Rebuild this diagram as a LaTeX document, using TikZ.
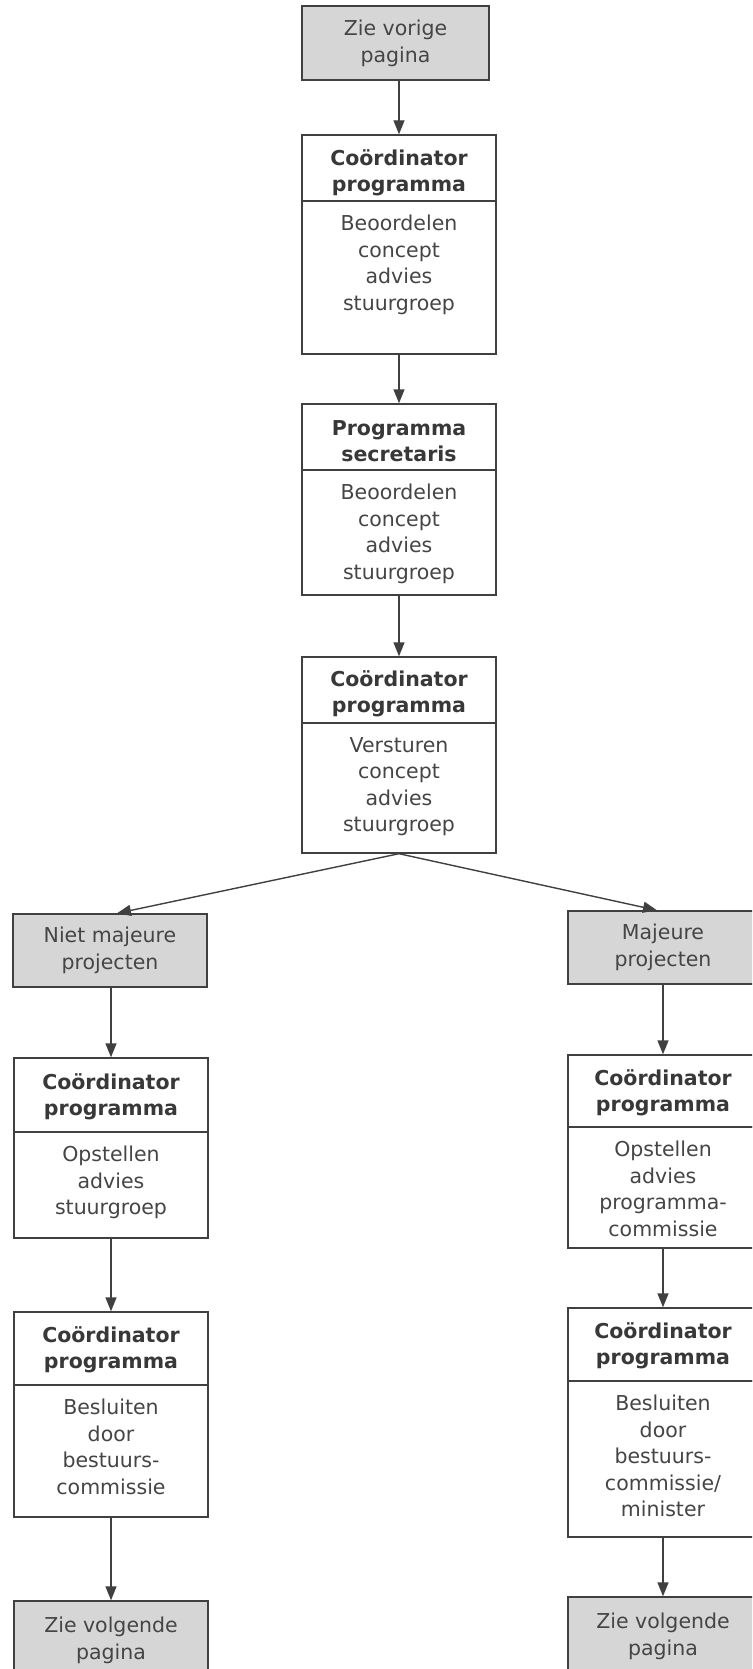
\documentclass[tikz,border=0pt]{standalone}
\usepackage{fontspec}
\setmainfont{DejaVu Sans}
\usetikzlibrary{arrows.meta}
\definecolor{ln}{HTML}{404040}
\definecolor{hd}{HTML}{383838}
\definecolor{tx}{HTML}{454545}
\definecolor{greyfill}{HTML}{D6D6D6}
\begin{document}
\begin{tikzpicture}[x=1pt,y=-1pt,
  boxline/.style={draw=ln, line width=1.4pt},
  greybox/.style={boxline, fill=greyfill, inner sep=0pt, text=tx, align=center,
    font=\fontsize{20.5}{27}\selectfont},
  headbox/.style={boxline, fill=white, inner sep=0pt},
  headtxt/.style={text=hd, align=center, inner sep=0pt,
    font=\bfseries\fontsize{20.5}{25.5}\selectfont},
  bodybox/.style={boxline, fill=white, inner sep=0pt},
  bodytxt/.style={font=\fontsize{20.5}{26.5}\selectfont, text=tx, align=center,
    inner sep=0pt, anchor=north},
  arr/.style={draw=ln, line width=1.4pt, -{Triangle[length=14pt,width=11pt]}}]
\clip (0,0) rectangle (752,1669);
\fill[white] (0,0) rectangle (752,1669);

% top column
\node[greybox, minimum width=187pt, minimum height=74pt] (top) at (395.5,43) {Zie vorige\\pagina};

\node[headbox, minimum width=194pt, minimum height=66pt] (b1h) at (399,168) {};
\node[headtxt] (b1x) at (399,173) {Coördinator\\programma};
\node[bodybox, minimum width=194pt, minimum height=153pt] (b1b) at (399,277.5) {};
\node[bodytxt] (b1t) at (399,215) {Beoordelen\\concept\\advies\\stuurgroep};

\node[headbox, minimum width=194pt, minimum height=66pt] (b2h) at (399,437) {};
\node[headtxt] (b2x) at (399,441) {Programma\\secretaris};
\node[bodybox, minimum width=194pt, minimum height=125pt] (b2b) at (399,532.5) {};
\node[bodytxt] (b2t) at (399,484) {Beoordelen\\concept\\advies\\stuurgroep};

\node[headbox, minimum width=194pt, minimum height=66pt] (b3h) at (399,690) {};
\node[headtxt] (b3x) at (399,694) {Coördinator\\programma};
\node[bodybox, minimum width=194pt, minimum height=130pt] (b3b) at (399,788) {};
\node[bodytxt] (b3t) at (399,737) {Versturen\\concept\\advies\\stuurgroep};

% left column
\node[greybox, minimum width=194pt, minimum height=73pt] (nm) at (110,950.5) {Niet majeure\\projecten};

\node[headbox, minimum width=194pt, minimum height=74pt] (l1h) at (111,1095) {};
\node[headtxt] (l1x) at (111,1097) {Coördinator\\programma};
\node[bodybox, minimum width=194pt, minimum height=106pt] (l1b) at (111,1185) {};
\node[bodytxt] (l1t) at (111,1146) {Opstellen\\advies\\stuurgroep};

\node[headbox, minimum width=194pt, minimum height=73pt] (l2h) at (111,1348.5) {};
\node[headtxt] (l2x) at (111,1350) {Coördinator\\programma};
\node[bodybox, minimum width=194pt, minimum height=132pt] (l2b) at (111,1451) {};
\node[bodytxt] (l2t) at (111,1399) {Besluiten\\door\\bestuurs-\\commissie};

\node[greybox, minimum width=194pt, minimum height=78pt] (l3) at (111,1640) {Zie volgende\\pagina};

% right column
\node[greybox, minimum width=190pt, minimum height=73pt] (mj) at (663,947.5) {Majeure\\projecten};

\node[headbox, minimum width=190pt, minimum height=72pt] (r1h) at (663,1091) {};
\node[headtxt] (r1x) at (663,1093) {Coördinator\\programma};
\node[bodybox, minimum width=190pt, minimum height=121pt] (r1b) at (663,1187.5) {};
\node[bodytxt] (r1t) at (663,1141) {Opstellen\\advies\\programma-\\commissie};

\node[headbox, minimum width=190pt, minimum height=73pt] (r2h) at (663,1344.5) {};
\node[headtxt] (r2x) at (663,1346) {Coördinator\\programma};
\node[bodybox, minimum width=190pt, minimum height=156pt] (r2b) at (663,1459) {};
\node[bodytxt] (r2t) at (663,1395) {Besluiten\\door\\bestuurs-\\commissie/\\minister};

\node[greybox, minimum width=190pt, minimum height=78pt] (r3) at (663,1636) {Zie volgende\\pagina};

% connectors
\draw[arr] (top.south -| b1h.north) -- (b1h.north);
\draw[arr] (b1b.south) -- (b2h.north);
\draw[arr] (b2b.south) -- (b3h.north);
\draw[arr] (b3b.south) -- ([xshift=7pt]nm.north);
\draw[arr] (b3b.south) -- ([xshift=-6pt]mj.north);
\draw[arr] (nm.south -| l1h.north) -- (l1h.north);
\draw[arr] (l1b.south) -- (l2h.north);
\draw[arr] (l2b.south) -- (l3.north);
\draw[arr] (mj.south) -- (r1h.north);
\draw[arr] (r1b.south) -- (r2h.north);
\draw[arr] (r2b.south) -- (r3.north);
\end{tikzpicture}
\end{document}
